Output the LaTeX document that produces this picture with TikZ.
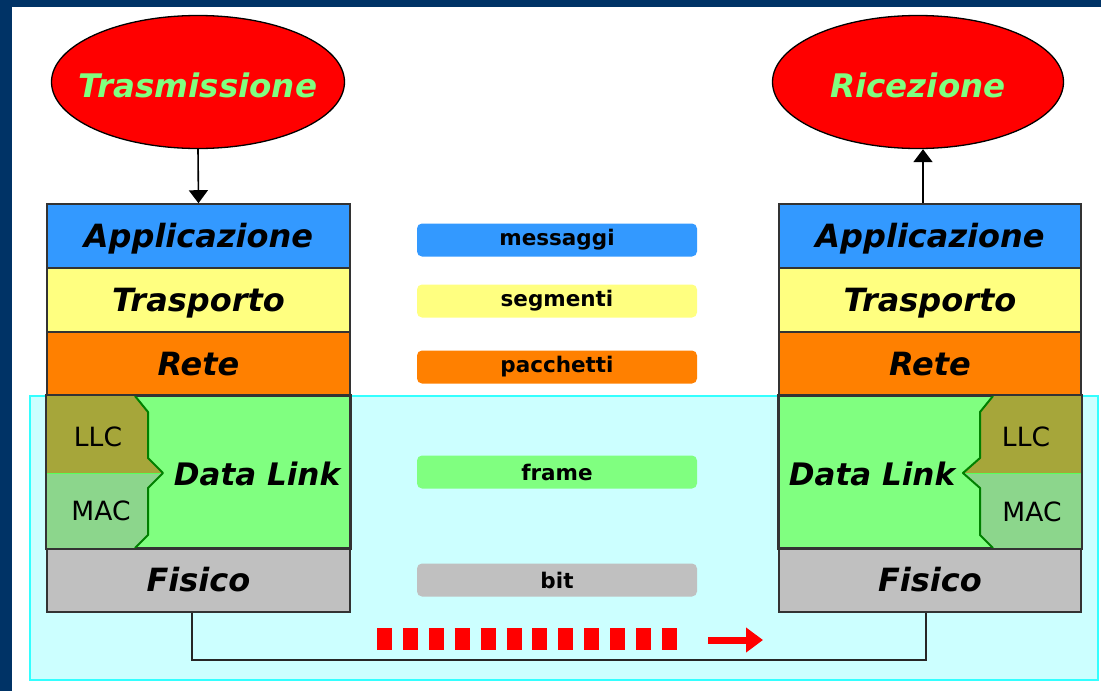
\documentclass[tikz,border=0pt]{standalone}
\usepackage{fontspec}
\setmainfont{DejaVu Sans}[ItalicFont={* Oblique},BoldItalicFont={* Bold Oblique}]
\usetikzlibrary{shapes.geometric,arrows.meta}
\definecolor{framebl}{RGB}{0,51,102}
\definecolor{zonebg}{RGB}{204,255,255}
\definecolor{zoneln}{RGB}{51,255,255}
\definecolor{appcol}{RGB}{51,153,255}
\definecolor{tracol}{RGB}{255,255,128}
\definecolor{retcol}{RGB}{255,128,0}
\definecolor{dlkcol}{RGB}{128,255,128}
\definecolor{fiscol}{RGB}{192,192,192}
\definecolor{llccol}{RGB}{166,166,58}
\definecolor{maccol}{RGB}{140,214,140}
\definecolor{sepcol}{RGB}{0,128,0}
\tikzset{
  layer/.style={draw=black!80, line width=1.6pt, minimum width=303pt, minimum height=64pt,
    inner sep=0pt, text height=24pt, text depth=2pt,
    font=\fontsize{32}{34}\selectfont\bfseries\itshape},
  layertext/.style={inner sep=0pt, font=\fontsize{31}{34}\selectfont\bfseries\itshape},
  endpoint/.style={ellipse, draw=black, line width=1.3pt, fill=red, inner sep=0pt,
    minimum height=133pt, text=dlkcol, text height=30pt, text depth=0pt,
    font=\fontsize{32.5}{34}\selectfont\bfseries\itshape},
  pill/.style={rounded corners=5pt, minimum width=280pt, minimum height=33pt, inner sep=0pt,
    font=\fontsize{21.5}{23}\selectfont\bfseries},
  sublabel/.style={inner sep=0pt, font=\fontsize{26.5}{28}\selectfont},
  arr/.style={line width=1.6pt, -{Triangle[width=19pt,length=13pt]}},
  wire/.style={line width=1.8pt, black!85},
}
\begin{document}
\begin{tikzpicture}[x=1pt,y=-1pt]
\useasboundingbox (0,0) rectangle (1101,691);
% page and frame
\fill[white] (0,0) rectangle (1101,691);
\fill[framebl] (0,0) rectangle (12,691);
\fill[framebl] (0,0) rectangle (1101,7);
% lower shaded zone (data link + physical)
\draw[zoneln, fill=zonebg, line width=1.5pt] (30,396) rectangle (1098,680);

% end points
\node[endpoint, minimum width=293pt] (tx) at (198,82) {\makebox[0pt]{Trasmissione}};
\node[endpoint, minimum width=291pt] (rx) at (918,82) {\makebox[0pt]{Ricezione}};

% left stack
\node[layer, fill=appcol] (lA) at (198.5,236) {Applicazione};
\node[layer, fill=tracol] (lT) at (198.5,300) {Trasporto};
\node[layer, fill=retcol] (lR) at (198.5,364) {Rete};
\node[layer, fill=dlkcol, minimum height=152pt] (lD) at (198.5,472) {};
\node[layer, fill=fiscol] (lF) at (198.5,580) {Fisico};

% right stack
\node[layer, fill=appcol, minimum width=302pt] (rA) at (930,236) {Applicazione};
\node[layer, fill=tracol, minimum width=302pt] (rT) at (930,300) {Trasporto};
\node[layer, fill=retcol, minimum width=302pt] (rR) at (930,364) {Rete};
\node[layer, fill=dlkcol, minimum width=302pt, minimum height=152pt] (rD) at (930,472) {};
\node[layer, fill=fiscol, minimum width=302pt] (rF) at (930,580) {Fisico};

% LLC / MAC sublayers, left
\fill[llccol] (47,396) -- (135,396) -- (148,412) -- (148,458) -- (163,473) -- (47,473) -- cycle;
\fill[maccol] (47,473) -- (163,473) -- (148,488) -- (148,535) -- (135,548) -- (47,548) -- cycle;
\draw[dlkcol!70!green, line width=0.8pt] (47,473) -- (160,473);
\draw[sepcol, line width=2pt, line join=round] (135,396) -- (148,412) -- (148,458) -- (163,473)
  -- (148,488) -- (148,535) -- (135,548);
\draw[black!80, line width=1.6pt] (lD.north west) rectangle (lD.south east);
\node[sublabel] (lLLC) at (98,437) {LLC};
\node[sublabel] (lMAC) at (101,511) {MAC};
\node[layertext] (lDt) at (257,474) {Data Link};

% LLC / MAC sublayers, right
\fill[llccol] (1081,396) -- (993,396) -- (980,412) -- (980,458) -- (963,473) -- (1081,473) -- cycle;
\fill[maccol] (1081,473) -- (963,473) -- (980,488) -- (980,535) -- (993,548) -- (1081,548) -- cycle;
\draw[dlkcol!70!green, line width=0.8pt] (966,473) -- (1081,473);
\draw[sepcol, line width=2pt, line join=round] (993,396) -- (980,412) -- (980,458) -- (963,473)
  -- (980,488) -- (980,535) -- (993,548);
\draw[black!80, line width=1.6pt] (rD.north west) rectangle (rD.south east);
\node[sublabel] (rLLC) at (1026,437) {LLC};
\node[sublabel] (rMAC) at (1032,512) {MAC};
\node[layertext] (rDt) at (872,474) {Data Link};

% data units exchanged between peer layers
\node[pill, fill=appcol] (uA) at (557,240) {messaggi};
\node[pill, fill=tracol] (uT) at (557,301) {segmenti};
\node[pill, fill=retcol] (uR) at (557,367) {pacchetti};
\node[pill, fill=dlkcol] (uD) at (557,472) {frame};
\node[pill, fill=fiscol] (uF) at (557,580) {bit};

% application arrows
\draw[arr] (tx.south) -- (lA.north);
\draw[arr] ([xshift=-7pt]rA.north) -- ([xshift=-7pt]rA.north |- rx.south);

% physical link
\coordinate (bl) at (192,660);
\coordinate (br) at (926,660);
\draw[wire] ([xshift=-6.5pt]lF.south) -- (bl) -- (br) -- (br |- rF.south);

% bit stream
\coordinate (bs) at (377,639);
\coordinate (be) at (678,639);
\draw[red, line width=22pt, dash pattern=on 15pt off 10.9pt] (bs) -- (be);
\coordinate (as) at (708,640);
\coordinate (ae) at (763,640);
\draw[red, line width=7pt, -{Triangle[width=24pt,length=17pt]}] (as) -- (ae);
\end{tikzpicture}
\end{document}
